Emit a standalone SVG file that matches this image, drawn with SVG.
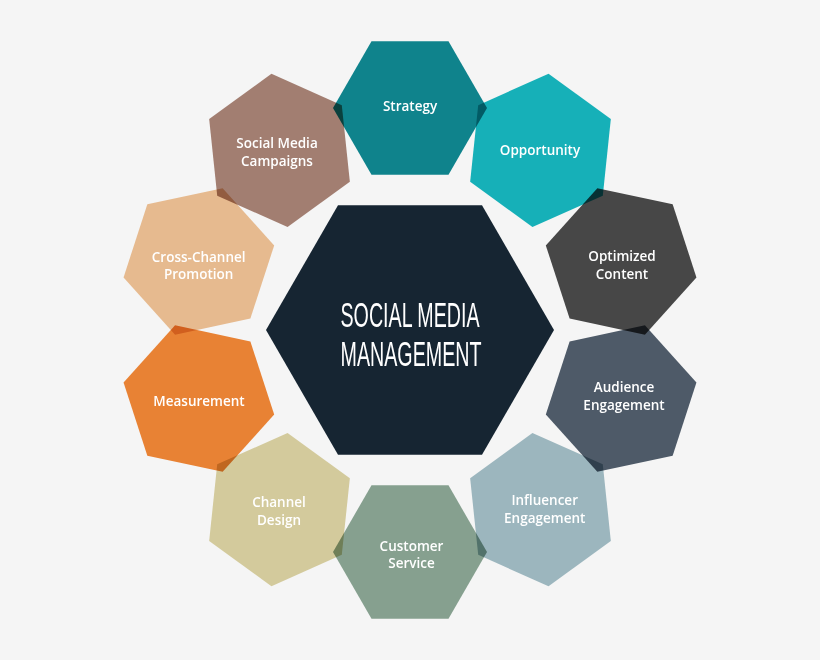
<svg xmlns="http://www.w3.org/2000/svg" xmlns:xlink="http://www.w3.org/1999/xlink" width="820" height="660" viewBox="0 0 820 660">
  <defs>
    <polygon id="hex" points="77,0 38.5,66.68 -38.5,66.68 -77,0 -38.5,-66.68 38.5,-66.68"/>
    <style>
      .ring { mix-blend-mode: multiply; }
      .lbl { font-family: "Open Sans", "Liberation Sans", sans-serif; font-weight: 600; font-size: 13.5px; fill: #ffffff; text-anchor: middle; }
      .title { font-family: "Liberation Sans", "DejaVu Sans", sans-serif; font-weight: 400; font-size: 35px; fill: #ffffff; text-anchor: middle; }
    </style>
  </defs>
  <rect x="0" y="0" width="820" height="660" fill="#f5f5f5"/>
  <g id="connectors"/>
  <g id="ring-shapes" style="isolation:isolate">
    <g id="strategy"><use xlink:href="#hex" class="ring" fill="#0f838c" transform="translate(410,108) rotate(0)"/></g>
    <g id="opportunity"><use xlink:href="#hex" class="ring" fill="#16b0b8" transform="translate(540.49,150.4) rotate(36)"/></g>
    <g id="optimized-content"><use xlink:href="#hex" class="ring" fill="#474747" transform="translate(621.13,261.4) rotate(72)"/></g>
    <g id="audience-engagement"><use xlink:href="#hex" class="ring" fill="#4e5a68" transform="translate(621.13,398.6) rotate(108)"/></g>
    <g id="influencer-engagement"><use xlink:href="#hex" class="ring" fill="#9cb6be" transform="translate(540.49,509.6) rotate(144)"/></g>
    <g id="customer-service"><use xlink:href="#hex" class="ring" fill="#86a08f" transform="translate(410,552) rotate(180)"/></g>
    <g id="channel-design"><use xlink:href="#hex" class="ring" fill="#d3ca9c" transform="translate(279.51,509.6) rotate(216)"/></g>
    <g id="measurement"><use xlink:href="#hex" class="ring" fill="#e88234" transform="translate(198.87,398.6) rotate(252)"/></g>
    <g id="cross-channel-promotion"><use xlink:href="#hex" class="ring" fill="#e6ba8f" transform="translate(198.87,261.4) rotate(288)"/></g>
    <g id="social-media-campaigns"><use xlink:href="#hex" class="ring" fill="#a27e71" transform="translate(279.51,150.4) rotate(324)"/></g>
  </g>
  <g id="labels">
    <text class="lbl" x="410" y="110.5">Strategy</text>
    <text class="lbl" x="540" y="155">Opportunity</text>
    <text class="lbl" x="622" y="261">Optimized</text>
    <text class="lbl" x="622" y="278.7">Content</text>
    <text class="lbl" x="624" y="392">Audience</text>
    <text class="lbl" x="624" y="409.5">Engagement</text>
    <text class="lbl" x="544.7" y="505">Influencer</text>
    <text class="lbl" x="544.7" y="522.5">Engagement</text>
    <text class="lbl" x="411.5" y="550.7">Customer</text>
    <text class="lbl" x="411.5" y="568.3">Service</text>
    <text class="lbl" x="279" y="507.3">Channel</text>
    <text class="lbl" x="279" y="525">Design</text>
    <text class="lbl" x="199" y="406">Measurement</text>
    <text class="lbl" x="198.7" y="261.7">Cross-Channel</text>
    <text class="lbl" x="198.7" y="279.3">Promotion</text>
    <text class="lbl" x="277" y="148.3">Social Media</text>
    <text class="lbl" x="277" y="166">Campaigns</text>
  </g>
  <g id="center">
    <polygon points="554,330 482,454.7 338,454.7 266,330 338,205.3 482,205.3" fill="#162532"/>
    <text class="title" x="410" y="326.7" textLength="139" lengthAdjust="spacingAndGlyphs">SOCIAL MEDIA</text>
    <text class="title" x="411" y="366" textLength="141" lengthAdjust="spacingAndGlyphs">MANAGEMENT</text>
  </g>
</svg>
